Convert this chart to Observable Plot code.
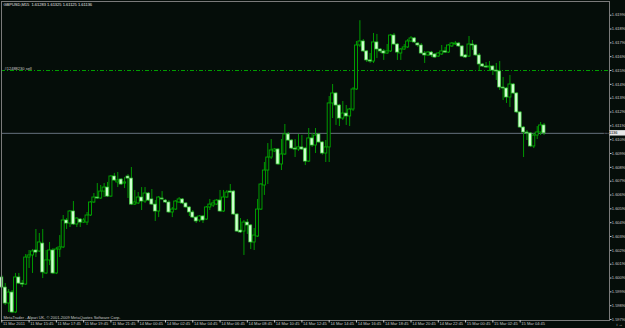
<!DOCTYPE html>
<html><head><meta charset="utf-8">
<script src="https://cdn.jsdelivr.net/npm/d3@7"></script>
<script src="https://cdn.jsdelivr.net/npm/@observablehq/plot@0.6"></script>
<style>
html,body{margin:0;padding:0;background:#050d09;overflow:hidden;}
#chart svg{display:block;}
</style></head><body><div id="chart"></div>
<script>
const opens = [1.60094,1.60021,1.59906,1.59985,1.59841,1.60094,1.60050,1.60043,1.60238,1.60253,
1.60289,1.60282,1.60339,1.60123,1.60217,1.60289,1.60123,1.60296,1.60311,1.60506,
1.60484,1.60571,1.60477,1.60513,1.60491,1.60491,1.60542,1.60636,1.60672,1.60665,
1.60715,1.60744,1.60679,1.60824,1.60781,1.60802,1.60773,1.60824,1.60809,1.60621,
1.60629,1.60672,1.60643,1.60701,1.60658,1.60621,1.60571,1.60665,1.60650,1.60636,
1.60564,1.60585,1.60636,1.60658,1.60629,1.60600,1.60564,1.60527,1.60506,1.60535,
1.60513,1.60600,1.60614,1.60621,1.60650,1.60571,1.60672,1.60715,1.60715,1.60549,
1.60433,1.60426,1.60491,1.60470,1.60347,1.60390,1.60585,1.60759,1.60867,1.60961,
1.61005,1.61019,1.60911,1.60983,1.61128,1.61084,1.61026,1.61019,1.61034,1.61026,
1.60932,1.61099,1.61048,1.61128,1.61070,1.60990,1.61034,1.61352,1.61424,1.61337,
1.61243,1.61279,1.61258,1.61308,1.61453,1.61771,1.61800,1.61728,1.61663,1.61655,
1.61793,1.61742,1.61728,1.61713,1.61728,1.61843,1.61778,1.61713,1.61742,1.61757,
1.61800,1.61822,1.61785,1.61771,1.61713,1.61699,1.61720,1.61706,1.61691,1.61706,
1.61728,1.61720,1.61764,1.61778,1.61785,1.61764,1.61699,1.61691,1.61778,1.61771,
1.61699,1.61634,1.61619,1.61612,1.61619,1.61590,1.61583,1.61467,1.61460,1.61395,
1.61489,1.61424,1.61287,1.61178,1.61142,1.61135,1.61041,1.61120,1.61142,1.61193];
const highs = [1.60108,1.60050,1.60007,1.60000,1.60123,1.60123,1.60072,1.60260,1.60289,1.60296,
1.60441,1.60412,1.60441,1.60289,1.60347,1.60303,1.60311,1.60397,1.60542,1.60520,
1.60578,1.60643,1.60527,1.60520,1.60520,1.60564,1.60643,1.60701,1.60773,1.60759,
1.60773,1.60781,1.60831,1.60846,1.60853,1.60809,1.60817,1.60838,1.60889,1.60723,
1.60708,1.60744,1.60744,1.60708,1.60730,1.60650,1.60679,1.60715,1.60658,1.60650,
1.60600,1.60650,1.60672,1.60665,1.60636,1.60607,1.60578,1.60535,1.60542,1.60542,
1.60607,1.60658,1.60650,1.60658,1.60723,1.60723,1.60723,1.60766,1.60723,1.60556,
1.60520,1.60506,1.60513,1.60477,1.60448,1.60658,1.60773,1.60925,1.61062,1.61091,
1.61026,1.61026,1.61091,1.61200,1.61142,1.61091,1.61091,1.61128,1.61120,1.61034,
1.61171,1.61135,1.61171,1.61135,1.61077,1.61084,1.61402,1.61489,1.61431,1.61345,
1.61366,1.61337,1.61316,1.61467,1.61800,1.61950,1.61814,1.61735,1.61713,1.61858,
1.61851,1.61749,1.61742,1.61778,1.61851,1.61858,1.61785,1.61749,1.61778,1.61814,
1.61836,1.61829,1.61793,1.61785,1.61728,1.61728,1.61728,1.61713,1.61720,1.61771,
1.61757,1.61778,1.61793,1.61800,1.61793,1.61771,1.61706,1.61836,1.61807,1.61778,
1.61713,1.61641,1.61648,1.61655,1.61626,1.61641,1.61655,1.61540,1.61467,1.61554,
1.61496,1.61431,1.61294,1.61185,1.61156,1.61142,1.61135,1.61185,1.61214,1.61207];
const lows = [1.60021,1.59891,1.59841,1.59833,1.59833,1.60043,1.60021,1.60036,1.60159,1.60123,
1.60238,1.60274,1.60086,1.60115,1.60180,1.60115,1.60115,1.60238,1.60303,1.60441,
1.60455,1.60470,1.60455,1.60455,1.60484,1.60470,1.60535,1.60629,1.60658,1.60658,
1.60672,1.60672,1.60672,1.60788,1.60744,1.60759,1.60737,1.60665,1.60614,1.60614,
1.60621,1.60578,1.60629,1.60643,1.60614,1.60499,1.60527,1.60650,1.60629,1.60556,
1.60527,1.60578,1.60629,1.60621,1.60593,1.60535,1.60520,1.60484,1.60491,1.60484,
1.60506,1.60578,1.60600,1.60614,1.60564,1.60564,1.60665,1.60701,1.60542,1.60419,
1.60412,1.60253,1.60405,1.60296,1.60289,1.60383,1.60578,1.60687,1.60766,1.60947,
1.60997,1.60903,1.60867,1.60976,1.61077,1.61019,1.60961,1.61005,1.61012,1.60903,
1.60925,1.61034,1.60990,1.61062,1.60978,1.60925,1.60925,1.61243,1.61193,1.61185,
1.61229,1.61193,1.61185,1.61294,1.61446,1.61757,1.61720,1.61648,1.61641,1.61641,
1.61677,1.61713,1.61663,1.61706,1.61720,1.61771,1.61663,1.61663,1.61735,1.61749,
1.61793,1.61785,1.61757,1.61706,1.61641,1.61691,1.61684,1.61677,1.61684,1.61699,
1.61713,1.61713,1.61757,1.61771,1.61757,1.61684,1.61677,1.61684,1.61735,1.61691,
1.61590,1.61612,1.61605,1.61583,1.61554,1.61518,1.61446,1.61373,1.61352,1.61323,
1.61417,1.61279,1.61171,1.60961,1.61084,1.61034,1.61026,1.61091,1.61120,1.61120];
const closes = [1.60021,1.59906,1.59985,1.59841,1.60094,1.60050,1.60043,1.60238,1.60253,1.60282,
1.60274,1.60347,1.60130,1.60217,1.60289,1.60123,1.60296,1.60311,1.60506,1.60484,
1.60571,1.60477,1.60520,1.60491,1.60506,1.60542,1.60636,1.60672,1.60665,1.60715,
1.60744,1.60679,1.60824,1.60795,1.60795,1.60766,1.60781,1.60809,1.60621,1.60636,
1.60672,1.60643,1.60701,1.60650,1.60621,1.60571,1.60672,1.60658,1.60636,1.60564,
1.60585,1.60643,1.60658,1.60629,1.60600,1.60564,1.60527,1.60499,1.60535,1.60506,
1.60600,1.60621,1.60629,1.60650,1.60571,1.60672,1.60708,1.60708,1.60549,1.60426,
1.60419,1.60491,1.60470,1.60347,1.60397,1.60585,1.60766,1.60867,1.60961,1.61012,
1.61019,1.60911,1.60983,1.61128,1.61084,1.61026,1.61019,1.61034,1.61019,1.60932,
1.61099,1.61048,1.61120,1.61070,1.60990,1.61034,1.61352,1.61424,1.61337,1.61243,
1.61279,1.61258,1.61308,1.61453,1.61771,1.61800,1.61728,1.61663,1.61655,1.61793,
1.61742,1.61728,1.61713,1.61728,1.61843,1.61778,1.61720,1.61742,1.61757,1.61800,
1.61822,1.61793,1.61771,1.61713,1.61699,1.61720,1.61699,1.61684,1.61713,1.61728,
1.61720,1.61771,1.61785,1.61785,1.61764,1.61691,1.61684,1.61778,1.61771,1.61699,
1.61634,1.61619,1.61612,1.61619,1.61590,1.61583,1.61467,1.61460,1.61395,1.61489,
1.61424,1.61287,1.61178,1.61142,1.61135,1.61041,1.61120,1.61142,1.61193,1.61136];

const timeTickIndex = [0,8,16,24,32,40,48,56,64,72,80,88,96,104,112,120,128,136,144,152];
const timeTickLabels = ["11 Mar 2011","11 Mar 15:45","11 Mar 17:45","11 Mar 19:45","11 Mar 21:45",
"14 Mar 00:45","14 Mar 02:45","14 Mar 04:45","14 Mar 06:45","14 Mar 08:45","14 Mar 10:45",
"14 Mar 12:45","14 Mar 14:45","14 Mar 16:45","14 Mar 18:45","14 Mar 20:45","14 Mar 22:45",
"15 Mar 00:45","15 Mar 02:45","15 Mar 04:45"];
const priceTicks = [1.59790,1.59890,1.59990,1.60090,1.60190,1.60290,1.60390,1.60490,1.60590,1.60690,
1.60790,1.60890,1.60990,1.61090,1.61190,1.61290,1.61390,1.61490,1.61590,1.61690,1.61790,1.61890,1.61990];

const titleText = "GBPUSD,M15  1.61283 1.61325 1.61125 1.61136";
const copyrightText = "MetaTrader - Alpari UK, \u00A9 2001-2009 MetaQuotes Software Corp.";
const orderPrice = 1.61590;
const orderLabel = "#12488230 sell";
const bidPrice = closes[closes.length - 1];

const BG = "#050d09";
const candles = opens.map((o, i) => ({i, open: o, high: highs[i], low: lows[i], close: closes[i]}));
const bulls = candles.filter(d => d.close >= d.open);
const bears = candles.filter(d => d.close < d.open);
const timeTicks = timeTickIndex.map((i, k) => ({i, label: timeTickLabels[k]}));
const fmt = d3.format(".5f");
const half = 0.44;

const chart = Plot.plot({
  width: 625, height: 328,
  marginLeft: 1, marginRight: 16, marginTop: 1, marginBottom: 8,
  style: {background: BG, color: "#c8c8c8", fontFamily: "'Liberation Sans', Arial, sans-serif", fontSize: "4px"},
  x: {domain: [-0.09, 178.2], axis: null},
  y: {domain: [1.59783, 1.62089], axis: null},
  marks: [
    Plot.ruleY([bidPrice], {stroke: "#66707e", strokeWidth: 1}),
    Plot.ruleY([orderPrice], {stroke: "#00a000", strokeDasharray: "4,2,1,2"}),
    Plot.ruleX(candles, {x: "i", y1: "low", y2: "high", stroke: "#009800", strokeWidth: 1}),
    Plot.rect(bulls, {x1: d => d.i - half, x2: d => d.i + half, y1: "open", y2: "close",
      fill: BG, stroke: "#00aa00", strokeWidth: 0.9}),
    Plot.rect(bears, {x1: d => d.i - half, x2: d => d.i + half, y1: "open", y2: "close",
      fill: "#d0ffd0", stroke: "#3cc83c", strokeWidth: 0.7}),
    Plot.frame({stroke: "#7a7a7a"}),
    Plot.axisY(priceTicks, {anchor: "right", tickSize: 1.5, tickPadding: 0.8, tickFormat: fmt,
      fontSize: 4, fill: "#c8c8c8", stroke: "#c8c8c8"}),
    Plot.axisX(timeTickIndex, {anchor: "bottom", tickSize: 2.5, tickFormat: () => "", stroke: "#c8c8c8"}),
    Plot.text(timeTicks, {x: "i", text: "label", frameAnchor: "bottom", textAnchor: "start",
      lineAnchor: "top", dx: 1.2, dy: 1.4, fontSize: 4, fill: "#c8c8c8"}),
    Plot.text([titleText], {text: d => d, frameAnchor: "top-left", textAnchor: "start",
      lineAnchor: "top", dx: 2, dy: 1.8, fontSize: 4, fill: "#e6e6e6"}),
    Plot.text([copyrightText], {text: d => d, frameAnchor: "bottom-left", textAnchor: "start",
      lineAnchor: "bottom", dx: 2, dy: -1.5, fontSize: 4, fill: "#c8c8c8"}),
    Plot.text([orderPrice], {y: d => d, text: () => orderLabel, frameAnchor: "left", textAnchor: "start",
      lineAnchor: "bottom", dx: 3, dy: -1, fontSize: 4, fill: "#c8c8c8"})
  ]
});
document.getElementById("chart").appendChild(chart);

// highlighted bid price label on the price axis
const yb = chart.scale("y").apply(bidPrice);
const svg = d3.select(chart);
svg.append("rect").attr("x", 609.5).attr("y", yb - 2.7).attr("width", 15.5).attr("height", 5.4)
  .attr("fill", "#e8e8e8");
svg.append("text").attr("x", 610.5).attr("y", yb).attr("dy", "0.35em")
  .attr("font-size", 4).attr("fill", "#000").attr("font-family", "'Liberation Sans', Arial, sans-serif")
  .text(fmt(bidPrice));
</script>
</body></html>
